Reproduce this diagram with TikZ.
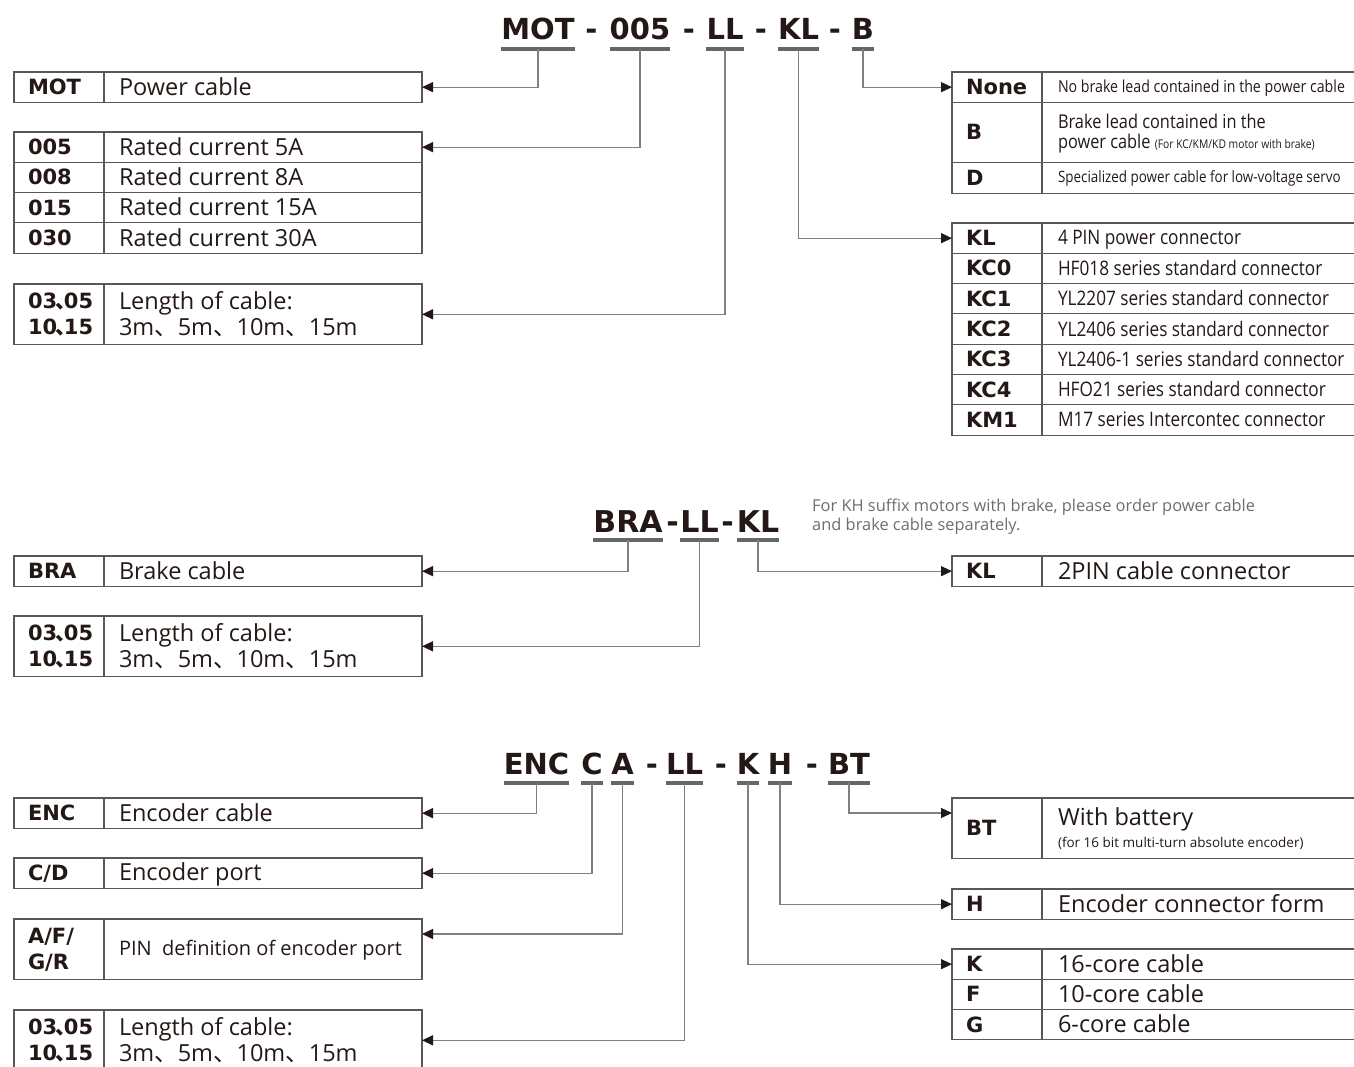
\documentclass[tikz,border=0pt]{standalone}
\usepackage{fontspec}
\usepackage{xcolor}
\usetikzlibrary{positioning,arrows.meta}
\setmainfont{Open Sans}
\newfontfamily\vera{DejaVu Sans}
\newfontfamily\narrow[FakeStretch=0.86]{Open Sans}
\newfontfamily\cjk{Noto Sans CJK SC}
\definecolor{inkc}{HTML}{231815}
\definecolor{framec}{HTML}{595757}
\definecolor{linkc}{HTML}{808080}
\definecolor{barc}{HTML}{666666}
\definecolor{notec}{HTML}{6E6E6E}
\newcommand\rowstrut{\spaceskip=0pt\xspaceskip=0pt\rule[-0.15em]{0pt}{1em}}
\newcommand\dun{{\cjk 、}}
\newcommand\dunx{\hbox to 0.32em{\kern-0.06em{\cjk 、}\hss}}

\begin{document}
\begin{tikzpicture}[x=1pt, y=-1pt,
cell/.style={draw=framec, line width=1.1pt, outer sep=0pt, inner ysep=0pt, align=left, text=inkc,
  minimum height=30.3pt, execute at begin node=\rowstrut, execute at end node=\rowstrut},
codel/.style={cell, inner xsep=14pt, text width=62pt, font=\vera\bfseries\fontsize{21}{26}\selectfont},
descl/.style={cell, inner xsep=15pt, text width=288pt, font=\fontsize{23.5}{26}\selectfont},
descr/.style={cell, inner xsep=16pt, text width=320pt, font=\fontsize{23.5}{26}\selectfont},
smallr/.style={font=\narrow\fontsize{16.5}{20}\selectfont},
midr/.style={font=\narrow\fontsize{20}{24}\selectfont},
tall/.style={minimum height=60.6pt},
ttl/.style={font=\vera\bfseries\fontsize{29}{29}\selectfont, text=inkc, inner xsep=0pt,
  inner ysep=9.5pt, text depth=0pt, anchor=base},
uline/.style={draw=barc, line width=4pt},
conn/.style={draw=linkc, line width=1.3pt, -{Triangle[length=11pt,width=10pt,color=inkc]}},
notetext/.style={font=\fontsize{16.4}{19}\selectfont, text=notec, align=left, inner sep=0pt, anchor=north west}]
\useasboundingbox (0,0) rectangle (1354,1066);

\node[ttl] (tm1) at (538,39.5) {MOT};
\node[ttl] (tmd1) at (591.5,39.5) {-};
\node[ttl] (tm2) at (640,39.5) {005};
\node[ttl] (tmd2) at (689,39.5) {-};
\node[ttl] (tm3) at (725,39.5) {LL};
\node[ttl] (tmd3) at (761,39.5) {-};
\node[ttl] (tm4) at (798.5,39.5) {KL};
\node[ttl] (tmd4) at (835,39.5) {-};
\node[ttl] (tm5) at (863,39.5) {B};
\draw[uline] (tm1.south west) -- (tm1.south east);
\draw[uline] (tm2.south west) -- (tm2.south east);
\draw[uline] (tm3.south west) -- (tm3.south east);
\draw[uline] (tm4.south west) -- (tm4.south east);
\draw[uline] (tm5.south west) -- (tm5.south east);

\node[codel, anchor=north west] (mot) at (14,72) {MOT};
\node[descl, right=0pt of mot] (motd) {Power cable};
\node[codel, anchor=north west] (c005) at (14,132) {005};
\node[descl, right=0pt of c005] (c005d) {Rated current 5A};
\node[codel, below=0pt of c005] (c008) {008};
\node[descl, right=0pt of c008] (c008d) {Rated current 8A};
\node[codel, below=0pt of c008] (c015) {015};
\node[descl, right=0pt of c015] (c015d) {Rated current 15A};
\node[codel, below=0pt of c015] (c030) {030};
\node[descl, right=0pt of c030] (c030d) {Rated current 30A};
\node[codel, tall, anchor=north west] (lena) at (14,284) {03\dunx05\\10\dunx15};
\node[descl, tall, right=0pt of lena] (lenad) {Length of cable:\\3m\dun5m\dun10m\dun15m};

\node[codel, anchor=north west] (none) at (952,72) {None};
\node[descr, smallr, right=0pt of none] (noned) {No brake lead contained in the power cable};
\node[codel, tall, below=0pt of none] (brk) {B};
\node[descr, tall, right=0pt of brk, font=\narrow\fontsize{19}{17}\selectfont] (brkd) {Brake lead contained in the\\power cable {\fontsize{12}{12}\selectfont(For KC/KM/KD motor with brake)}};
\node[codel, below=0pt of brk] (dd) {D};
\node[descr, right=0pt of dd, font=\narrow\fontsize{15.6}{20}\selectfont] (ddd) {Specialized power cable for low-voltage servo};

\node[codel, anchor=north west] (kl) at (952,223) {KL};
\node[descr, midr, right=0pt of kl] (kld) {4 PIN power connector};
\node[codel, below=0pt of kl] (kc0) {KC0};
\node[descr, midr, right=0pt of kc0] (kc0d) {HF018 series standard connector};
\node[codel, below=0pt of kc0] (kc1) {KC1};
\node[descr, midr, right=0pt of kc1] (kc1d) {YL2207 series standard connector};
\node[codel, below=0pt of kc1] (kc2) {KC2};
\node[descr, midr, right=0pt of kc2] (kc2d) {YL2406 series standard connector};
\node[codel, below=0pt of kc2] (kc3) {KC3};
\node[descr, midr, right=0pt of kc3] (kc3d) {YL2406-1 series standard connector};
\node[codel, below=0pt of kc3] (kc4) {KC4};
\node[descr, midr, right=0pt of kc4] (kc4d) {HFO21 series standard connector};
\node[codel, below=0pt of kc4] (km1) {KM1};
\node[descr, midr, right=0pt of km1] (km1d) {M17 series Intercontec connector};

\draw[conn] (tm1.south) |- (motd.east);
\draw[conn] (tm2.south) |- (c005d.east);
\draw[conn] (tm3.south) |- (lenad.east);
\draw[conn] (tm4.south) |- (kl.west);
\draw[conn] (tm5.south) |- (none.west);

\node[ttl, font=\vera\bfseries\fontsize{30}{30}\selectfont, inner ysep=8pt] (tb1) at (628,532) {BRA};
\node[ttl, font=\vera\bfseries\fontsize{30}{30}\selectfont, inner ysep=8pt] (tbd1) at (672.5,532) {-};
\node[ttl, font=\vera\bfseries\fontsize{30}{30}\selectfont, inner ysep=8pt] (tb2) at (699.5,532) {LL};
\node[ttl, font=\vera\bfseries\fontsize{30}{30}\selectfont, inner ysep=8pt] (tbd2) at (727.5,532) {-};
\node[ttl, font=\vera\bfseries\fontsize{30}{30}\selectfont, inner ysep=8pt] (tb3) at (758,532) {KL};
\draw[uline] (tb1.south west) -- (tb1.south east);
\draw[uline] (tb2.south west) -- (tb2.south east);
\draw[uline] (tb3.south west) -- (tb3.south east);
\node[notetext] (note) at (812,498.5) {For KH suffix motors with brake, please order power cable\\and brake cable separately.};

\node[codel, anchor=north west] (bra) at (14,556) {BRA};
\node[descl, right=0pt of bra] (brad) {Brake cable};
\node[codel, tall, anchor=north west] (lenb) at (14,616) {03\dunx05\\10\dunx15};
\node[descl, tall, right=0pt of lenb] (lenbd) {Length of cable:\\3m\dun5m\dun10m\dun15m};
\node[codel, anchor=north west] (klb) at (952,556) {KL};
\node[descr, right=0pt of klb] (klbd) {2PIN cable connector};

\draw[conn] (tb1.south) |- (brad.east);
\draw[conn] (tb2.south) |- (lenbd.east);
\draw[conn] (tb3.south) |- (klb.west);

\node[ttl, inner ysep=8.5pt] (te1) at (536.5,774) {ENC};
\node[ttl, inner ysep=8.5pt] (te2) at (592,774) {C};
\node[ttl, inner ysep=8.5pt] (te3) at (622.5,774) {A};
\node[ttl, inner ysep=8.5pt] (ted1) at (652,774) {-};
\node[ttl, inner ysep=8.5pt] (te4) at (684.5,774) {LL};
\node[ttl, inner ysep=8.5pt] (ted2) at (721,774) {-};
\node[ttl, inner ysep=8.5pt] (te5) at (748,774) {K};
\node[ttl, inner ysep=8.5pt] (te6) at (780,774) {H};
\node[ttl, inner ysep=8.5pt] (ted3) at (812,774) {-};
\node[ttl, inner ysep=8.5pt] (te7) at (849,774) {BT};
\draw[uline] (te1.south west) -- (te1.south east);
\draw[uline] (te2.south west) -- (te2.south east);
\draw[uline] (te3.south west) -- (te3.south east);
\draw[uline] (te4.south west) -- (te4.south east);
\draw[uline] (te5.south west) -- (te5.south east);
\draw[uline] (te6.south west) -- (te6.south east);
\draw[uline] (te7.south west) -- (te7.south east);

\node[codel, anchor=north west] (enc) at (14,798) {ENC};
\node[descl, right=0pt of enc] (encd) {Encoder cable};
\node[codel, anchor=north west] (cd) at (14,858) {C/D};
\node[descl, right=0pt of cd] (cdd) {Encoder port};
\node[codel, tall, anchor=north west] (afgr) at (14,919) {A/F/\\G/R};
\node[descl, tall, right=0pt of afgr, font=\fontsize{20}{24}\selectfont] (afgrd) {\mbox{PIN~~definition of encoder port}};
\node[codel, tall, anchor=north west] (lenc) at (14,1010) {03\dunx05\\10\dunx15};
\node[descl, tall, right=0pt of lenc] (lencd) {Length of cable:\\3m\dun5m\dun10m\dun15m};

\node[codel, tall, anchor=north west] (bt) at (952,798) {BT};
\node[descr, tall, right=0pt of bt] (btd) {With battery\\[-4.5pt]{\fontsize{13.5}{14}\selectfont(for 16 bit multi-turn absolute encoder)}};
\node[codel, anchor=north west] (hh) at (952,889) {H};
\node[descr, right=0pt of hh] (hhd) {Encoder connector form};
\node[codel, anchor=north west] (kk) at (952,949) {K};
\node[descr, right=0pt of kk] (kkd) {16-core cable};
\node[codel, below=0pt of kk] (ff) {F};
\node[descr, right=0pt of ff] (ffd) {10-core cable};
\node[codel, below=0pt of ff] (gg) {G};
\node[descr, right=0pt of gg] (ggd) {6-core cable};

\draw[conn] (te1.south) |- (encd.east);
\draw[conn] (te2.south) |- (cdd.east);
\draw[conn] (te3.south) |- ([yshift=-15pt]afgrd.north east);
\draw[conn] (te4.south) |- (lencd.east);
\draw[conn] (te5.south) |- (kk.west);
\draw[conn] (te6.south) |- (hh.west);
\draw[conn] (te7.south) |- ([yshift=-15pt]bt.north west);
\end{tikzpicture}
\end{document}
